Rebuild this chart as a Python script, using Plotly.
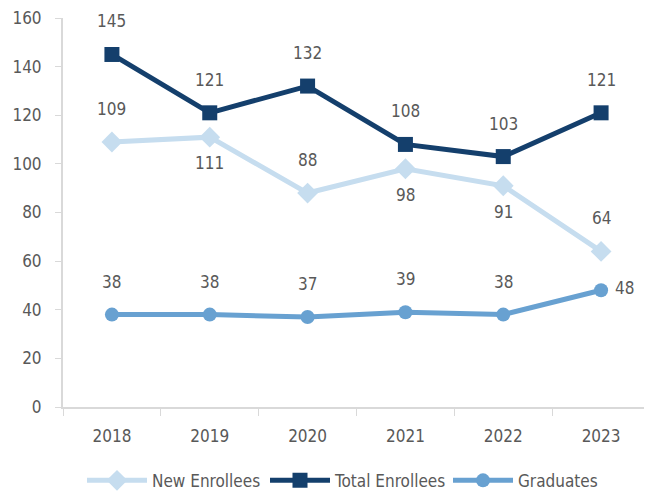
import plotly.graph_objects as go

years = ["2018", "2019", "2020", "2021", "2022", "2023"]
new_enrollees = [109, 111, 88, 98, 91, 64]
total_enrollees = [145, 121, 132, 108, 103, 121]
graduates = [38, 38, 37, 39, 38, 48]
y_ticks = [0, 20, 40, 60, 80, 100, 120, 140, 160]

# label placement per point: "a" above, "b" below, "r" right
new_pos = ["a", "b", "a", "b", "b", "a"]
total_pos = ["a"] * 6
grad_pos = ["a"] * 5 + ["r"]

FONT = "DejaVu Sans Condensed, Liberation Sans Narrow, sans-serif"
TXT = "#595959"
LBL_SIZE = 17

C_NEW = "#c6ddef"
C_TOT = "#143f6c"
C_GRAD = "#68a1d1"

fig = go.Figure()
fig.add_trace(go.Scatter(
    x=years, y=new_enrollees, name="New Enrollees", mode="lines+markers",
    line=dict(color=C_NEW, width=5),
    marker=dict(symbol="diamond", size=16, color=C_NEW),
    cliponaxis=False,
))
fig.add_trace(go.Scatter(
    x=years, y=total_enrollees, name="Total Enrollees", mode="lines+markers",
    line=dict(color=C_TOT, width=5),
    marker=dict(symbol="square", size=15, color=C_TOT),
    cliponaxis=False,
))
fig.add_trace(go.Scatter(
    x=years, y=graduates, name="Graduates", mode="lines+markers",
    line=dict(color=C_GRAD, width=5),
    marker=dict(symbol="circle", size=14, color=C_GRAD),
    cliponaxis=False,
))

annotations = []
for vals, poss in [(new_enrollees, new_pos), (total_enrollees, total_pos), (graduates, grad_pos)]:
    for i, (v, p) in enumerate(zip(vals, poss)):
        xs, ys = 0, 0
        if p == "a":
            ys = 33
        elif p == "b":
            ys = -26
        else:
            xs, ys = 23, 2
        annotations.append(dict(
            x=i, y=v, text=str(v), showarrow=False, xshift=xs, yshift=ys,
            font=dict(family=FONT, size=LBL_SIZE, color=TXT),
            xanchor="center", yanchor="middle",
        ))

# page body has an 8px default margin: figure is sized so it ends at the window edge
fig.update_layout(
    width=644, height=493,
    margin=dict(l=55, r=2, t=10, b=94),
    paper_bgcolor="white", plot_bgcolor="white",
    font=dict(family=FONT, color=TXT, size=LBL_SIZE),
    showlegend=True,
    annotations=annotations,
    legend=dict(orientation="h", x=0.5, xanchor="center", y=-0.236, yanchor="bottom",
                font=dict(family=FONT, size=17, color=TXT), itemwidth=60,
                entrywidth=108, entrywidthmode="pixels", tracegroupgap=0),
    xaxis=dict(type="category", range=[-0.5, len(years) - 0.5],
               showline=True, linecolor="#d9d9d9", linewidth=2,
               ticks="outside", ticklen=7, tickcolor="#d9d9d9", tickson="boundaries",
               showgrid=False, automargin=False, ticklabelstandoff=13,
               tickfont=dict(family=FONT, size=LBL_SIZE, color=TXT)),
    yaxis=dict(range=[0, 160], tickvals=y_ticks, showline=True, linecolor="#d9d9d9",
               linewidth=2, ticks="outside", ticklen=6, tickcolor="#d9d9d9",
               showgrid=False, zeroline=False, automargin=False, ticklabelstandoff=10,
               ticklabeloverflow="allow",
               tickfont=dict(family=FONT, size=LBL_SIZE, color=TXT)),
)

fig.write_html("out.html")
